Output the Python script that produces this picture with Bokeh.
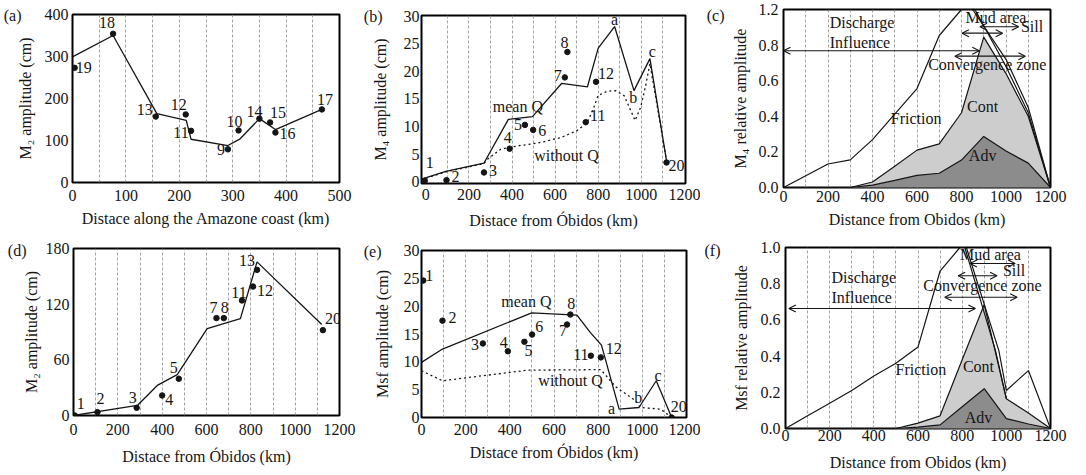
from bokeh.plotting import figure
from bokeh.layouts import column, row
from bokeh.models import (ColumnDataSource, FixedTicker, Arrow, OpenHead, Range1d,
                          LinearAxis)
from bokeh.core.properties import value
from bokeh.embed import file_html
from bokeh.resources import INLINE

FONT = "Liberation Serif"
INK = "#151515"
CONT_FILL = "#cdcdcd"
ADV_FILL = "#8c8c8c"

# ---------------- data ----------------
# (a) M2 amplitude along the Amazon coast
a_stations = ["19", "18", "13", "12", "11", "9", "10", "14", "15", "16", "17"]
a_obs_km = [4, 76, 156, 212, 222, 291, 311, 350, 370, 380, 467]
a_obs_cm = [273, 354, 157, 162, 123, 79, 124, 152, 143, 119, 174]
a_model_km = [0, 76, 158, 213, 222, 291, 314, 350, 380, 467]
a_model_cm = [299, 350, 164, 148, 103, 88, 104, 152, 126, 174]

# (b) M4 amplitude from Obidos
b_stations = ["1", "2", "3", "4", "5", "6", "7", "8", "11", "12", "20"]
b_obs_km = [-5, 96, 270, 389, 460, 498, 645, 657, 742, 790, 1117]
b_obs_cm = [0.2, 0.3, 1.7, 6.0, 10.3, 9.4, 18.9, 23.5, 10.8, 18.1, 3.5]
b_meanq_km = [-20, 93, 270, 383, 495, 630, 750, 800, 876, 966, 1040, 1117]
b_meanq_cm = [0.5, 1.9, 3.4, 11.3, 11.8, 17.8, 17.2, 24.2, 28.1, 16.5, 22.3, 3.8]
b_noq_km = [-20, 93, 270, 286, 348, 425, 518, 626, 703, 750, 780, 799, 842, 881,
            920, 951, 971, 997, 1020, 1040, 1117]
b_noq_cm = [0.4, 1.8, 3.3, 4.1, 5.9, 6.5, 7.0, 8.0, 9.3, 10.8, 13.5, 15.6, 16.4, 16.5,
            15.6, 12.9, 11.1, 13.5, 17.4, 21.4, 3.8]

# (c) M4 relative amplitude (stacked contributions)
c_km = [0, 100, 200, 300, 400, 500, 600, 700, 800, 900, 1000, 1100, 1200]
c_cont_top = [0, 0, 0, 0, 0.031, 0.12, 0.21, 0.245, 0.42, 0.845, 0.64, 0.40, 0]
c_adv_top = [0, 0, 0, 0, 0.013, 0.04, 0.068, 0.08, 0.154, 0.287, 0.205, 0.137, 0]
c_friction_km = [0, 200, 300, 400, 600, 700, 800, 850, 1000, 1100, 1200]
c_friction_top = [0, 0.132, 0.155, 0.269, 0.556, 0.854, 1.0, 1.0, 0.72, 0.45, 0]
c_second_km = [860, 1000, 1100, 1200]
c_second_val = [1.0, 0.68, 0.42, 0]
c_ytick_labels = ["0.0", "0.2", "0.4", "0.6", "0.8", "1.2"]

# (d) M2 amplitude from Obidos
d_stations = ["1", "2", "3", "4", "5", "7", "8", "11", "12", "13", "20"]
d_obs_km = [6, 108, 285, 400, 475, 645, 678, 760, 810, 828, 1125]
d_obs_cm = [0, 3.6, 8.3, 21.6, 39.6, 105, 105, 124, 139, 157, 92]
d_model_km = [0, 288, 378, 468, 603, 753, 828, 1120]
d_model_cm = [0, 10.8, 32.4, 44, 93.6, 104.4, 165.6, 98]

# (e) Msf amplitude from Obidos
e_stations = ["1", "2", "3", "4", "5", "6", "7", "8", "11", "12", "20"]
e_obs_km = [8, 95, 278, 391, 466, 501, 659, 674, 767, 812, 1133]
e_obs_cm = [24.6, 17.4, 13.3, 11.9, 13.6, 14.9, 16.7, 18.5, 11.1, 10.8, 0]
e_meanq_km = [0, 95, 499, 704, 764, 815, 895, 985, 1063, 1133]
e_meanq_cm = [9.9, 12.3, 18.8, 18.4, 15.3, 13.0, 1.5, 1.8, 6.6, 0]
e_noq_km = [0, 95, 480, 812, 880, 970, 990, 1083, 1133]
e_noq_cm = [8.4, 6.6, 8.5, 8.6, 5.5, 3.0, 1.8, 1.5, 0]

# (f) Msf relative amplitude (stacked contributions)
f_km = [0, 100, 200, 300, 400, 500, 600, 700, 800, 900, 1000, 1100, 1200]
f_cont_top = [0, 0, 0, 0, 0, 0, 0.03, 0.07, 0.38, 0.685, 0.165, 0.085, 0]
f_adv_top = [0, 0, 0, 0, 0, 0, 0.008, 0.02, 0.12, 0.22, 0.055, 0.025, 0]
f_friction_km = [0, 100, 200, 300, 400, 500, 600, 700, 790, 819, 966, 1000, 1100, 1200]
f_friction_top = [0, 0.07, 0.14, 0.21, 0.29, 0.36, 0.45, 0.87, 1.0, 1.0, 0.43, 0.21, 0.32, 0]
f_second_km = [812, 951, 1000]
f_second_val = [1.0, 0.43, 0.165]

# zone annotations (text, x, y) and double arrows (x0, x1, y)
c_zone_text = ["Discharge", "Influence", "Mud area", "Sill", "Convergence zone",
               "Friction", "Cont", "Adv"]
c_zone_x = [208, 208, 955, 1117, 916, 596, 895, 895]
c_zone_y = [0.927, 0.812, 0.954, 0.903, 0.689, 0.388, 0.457, 0.177]
c_arrow_x0 = [0, 802, 883, 770]
c_arrow_x1 = [880, 985, 1057, 1087]
c_arrow_y = [0.768, 0.867, 0.903, 0.738]

f_zone_text = ["Discharge", "Influence", "Mud area", "Sill", "Convergence zone",
               "Friction", "Cont", "Adv"]
f_zone_x = [208, 208, 928, 1035, 892, 613, 874, 874]
f_zone_y = [0.834, 0.724, 0.963, 0.871, 0.792, 0.328, 0.343, 0.061]
f_arrow_x0 = [15, 835, 782, 721]
f_arrow_x1 = [860, 1040, 958, 1049]
f_arrow_y = [0.663, 0.912, 0.844, 0.725]

b_curve_text = ["mean Q", "without Q", "a", "b", "c"]
b_curve_x = [427, 653, 876, 963, 1051]
b_curve_y = [13.7, 4.7, 29.3, 15.3, 23.5]
e_curve_text = ["mean Q", "without Q", "a", "b", "c"]
e_curve_x = [475, 675, 861, 981, 1071]
e_curve_y = [20.8, 6.7, 1.7, 3.6, 7.5]

panel_tags = ["(a)", "(b)", "(c)", "(d)", "(e)", "(f)"]

# ---------------- layout (pixel offsets of station labels) ----------------
a_lab_dx = [9, -6, -11, -7, -10, -7, -4, -5, 8, 12, 3]
a_lab_dy = [0, -11, -7, -10, 2, 0, -9, -7, -10, 1, -10]
b_lab_dx = [5, 9, 9, -2, -7, 9, -7, -3, 12, 10, 10]
b_lab_dy = [-18, -4, -2, -11, 0, 1, -2, -9, -7, -8, 3]
d_lab_dx = [6, 3, -4, 7, -5, -3, 1, -3, 12, -10, 10]
d_lab_dy = [-12, -14, -10, 4, -11, -11, -11, -8, 4, -9, -12]
e_lab_dx = [6, 10, -8, -4, 4, 7, -4, 1, -10, 13, 7]
e_lab_dy = [-5, -3, 1, -9, 9, -8, 6, -11, -1, -9, -11]


def style_axis(ax):
    ax.axis_line_color = None
    ax.major_tick_line_color = None
    ax.minor_tick_line_color = None
    ax.major_tick_out = 0
    ax.major_tick_in = 0
    ax.minor_tick_out = 0
    ax.minor_tick_in = 0
    ax.major_label_text_font = FONT
    ax.major_label_text_font_size = "16px"
    ax.major_label_text_color = INK
    ax.axis_label_text_font = FONT
    ax.axis_label_text_font_size = "16px"
    ax.axis_label_text_font_style = "normal"
    ax.axis_label_text_color = INK


def make_panel(w, h, left, right, top, bottom, xr, yr, xticks, yticks, grid_ticks,
               xlabel, ylabel, xstand, xlstand, ystand, ylstand, tag, tag_y, tag_stand,
               ylabels=None):
    p = figure(width=w, height=h, x_range=Range1d(*xr), y_range=Range1d(*yr),
               output_backend="svg", toolbar_location=None,
               min_border_left=left, min_border_right=right,
               min_border_top=top, min_border_bottom=bottom)
    try:
        p.frame_align = False
    except Exception:
        pass
    p.background_fill_color = "white"
    p.border_fill_color = "white"
    p.outline_line_color = "black"
    p.outline_line_width = 2
    p.xaxis.ticker = FixedTicker(ticks=xticks)
    p.yaxis.ticker = FixedTicker(ticks=yticks)
    p.xaxis.major_label_overrides = {t: str(t) for t in xticks}
    if ylabels is not None:
        p.yaxis.major_label_overrides = {t: s for t, s in zip(yticks, ylabels)}
    else:
        p.yaxis.major_label_overrides = {t: str(t) for t in yticks}
    style_axis(p.xaxis[0])
    style_axis(p.yaxis[0])
    p.xaxis.axis_label = xlabel
    p.yaxis.axis_label = ylabel
    p.xaxis.major_label_standoff = xstand
    p.xaxis.axis_label_standoff = xlstand
    p.yaxis.major_label_standoff = ystand
    p.yaxis.axis_label_standoff = ylstand
    # panel letter, drawn as the single label of an outer, otherwise bare axis
    tag_axis = LinearAxis(ticker=FixedTicker(ticks=[tag_y]),
                          major_label_overrides={tag_y: tag})
    style_axis(tag_axis)
    tag_axis.major_label_standoff = tag_stand
    p.add_layout(tag_axis, "left")
    p.xgrid.ticker = FixedTicker(ticks=grid_ticks)
    p.xgrid.grid_line_color = "#8a8a8a"
    p.xgrid.grid_line_dash = "3 2"
    p.xgrid.grid_line_width = 0.8
    p.ygrid.visible = False
    return p


def station_points(p, xs, ys, names, dx, dy):
    src = ColumnDataSource(dict(x=xs, y=ys, t=names, dx=dx, dy=dy))
    p.scatter("x", "y", source=src, size=5.5, color=INK)
    p.text("x", "y", text="t", x_offset="dx", y_offset="dy", source=src,
           text_font=value(FONT), text_font_size="16px", text_color=INK,
           text_align="center", text_baseline="middle")


def free_text(p, xs, ys, texts, align="center"):
    src = ColumnDataSource(dict(x=xs, y=ys, t=texts))
    p.text("x", "y", text="t", source=src, text_font=value(FONT),
           text_font_size="16px", text_color=INK, text_align=align,
           text_baseline="middle")


def double_arrows(p, x0s, x1s, ys):
    for x0, x1, y in zip(x0s, x1s, ys):
        p.add_layout(Arrow(start=OpenHead(size=7, line_width=1.1, line_color=INK),
                           end=OpenHead(size=7, line_width=1.1, line_color=INK),
                           x_start=x0, y_start=y, x_end=x1, y_end=y,
                           line_color=INK, line_width=1.1))


km_ticks = [0, 200, 400, 600, 800, 1000, 1200]
grid100 = [100, 200, 300, 400, 500, 600, 700, 800, 900, 1000, 1100]

# (a)
pa = make_panel(360, 235, 72, 21, 14, 53, (0, 500), (0, 400), [0, 100, 200, 300, 400, 500],
                [0, 100, 200, 300, 400], [50, 100, 150, 200, 250, 300, 350, 400, 450],
                "Distace along the Amazone coast (km)", "M\u2082 amplitude (cm)", 7, 6, 4, 8,
                panel_tags[0], 397.6, -8)
pa.line(a_model_km, a_model_cm, line_color=INK, line_width=1.3)
station_points(pa, a_obs_km, a_obs_cm, a_stations, a_lab_dx, a_lab_dy)

# (b)
pb = make_panel(340, 235, 61, 15, 15, 52, (-20, 1205), (-0.3, 30.1), km_ticks,
                [0, 5, 10, 15, 20, 25, 30], grid100,
                "Distace from \u00d3bidos (km)", "M\u2084 amplitude (cm)", 5, 9, 2, 12,
                panel_tags[1], 30.0, -14)
pb.line(b_noq_km, b_noq_cm, line_color=INK, line_width=1.3, line_dash="2 3")
pb.line(b_meanq_km, b_meanq_cm, line_color=INK, line_width=1.3)
station_points(pb, b_obs_km, b_obs_cm, b_stations, b_lab_dx, b_lab_dy)
free_text(pb, b_curve_x, b_curve_y, b_curve_text)

# (c)
pc = make_panel(386, 235, 83, 36, 9, 48, (0, 1200), (0, 1.0), km_ticks,
                [0, 0.2, 0.4, 0.6, 0.8, 1.0], grid100,
                "Distance from Obidos (km)", "M\u2084 relative amplitude", 3, 6, 5, 7,
                panel_tags[2], 0.966, 4, ylabels=c_ytick_labels)
pc.varea(x=c_km, y1=0, y2=c_cont_top, fill_color=CONT_FILL)
pc.varea(x=c_km, y1=0, y2=c_adv_top, fill_color=ADV_FILL)
pc.line(c_km, c_cont_top, line_color=INK, line_width=1.2)
pc.line(c_km, c_adv_top, line_color=INK, line_width=1.2)
pc.line(c_friction_km, c_friction_top, line_color=INK, line_width=1.2)
pc.line(c_second_km, c_second_val, line_color=INK, line_width=1.2)
double_arrows(pc, c_arrow_x0, c_arrow_x1, c_arrow_y)
free_text(pc, c_zone_x[:2], c_zone_y[:2], c_zone_text[:2], align="left")
free_text(pc, c_zone_x[2:], c_zone_y[2:], c_zone_text[2:])

# (d)
pd_ = make_panel(360, 240, 73, 21, 13, 60, (0, 1200), (0, 180), km_ticks,
                 [0, 60, 120, 180], grid100,
                 "Distace from \u00d3bidos (km)", "M\u2082 amplitude (cm)", 8, 10, 4, 3,
                 panel_tags[3], 177.8, -7)
pd_.line(d_model_km, d_model_cm, line_color=INK, line_width=1.3)
station_points(pd_, d_obs_km, d_obs_cm, d_stations, d_lab_dx, d_lab_dy)

# (e)
pe = make_panel(340, 240, 60, 14, 15, 58, (0, 1200), (0, 30), km_ticks,
                [0, 5, 10, 15, 20, 25, 30], grid100,
                "Distace from \u00d3bidos (km)", "Msf amplitude (cm)", 6, 6, 2, 10,
                panel_tags[4], 29.9, -11)
pe.line(e_noq_km, e_noq_cm, line_color=INK, line_width=1.3, line_dash="2 3")
pe.line(e_meanq_km, e_meanq_cm, line_color=INK, line_width=1.3)
station_points(pe, e_obs_km, e_obs_cm, e_stations, e_lab_dx, e_lab_dy)
free_text(pe, e_curve_x, e_curve_y, e_curve_text)

# (f)
pf = make_panel(386, 240, 85, 36, 12, 47, (0, 1200), (0, 1.0), km_ticks,
                [0, 0.2, 0.4, 0.6, 0.8, 1.0], grid100,
                "Distance from Obidos (km)", "Msf relative amplitude", 1, 10, 5, 8,
                panel_tags[5], 0.983, 9,
                ylabels=["0.0", "0.2", "0.4", "0.6", "0.8", "1.0"])
pf.varea(x=f_km, y1=0, y2=f_cont_top, fill_color=CONT_FILL)
pf.varea(x=f_km, y1=0, y2=f_adv_top, fill_color=ADV_FILL)
pf.line(f_km, f_cont_top, line_color=INK, line_width=1.2)
pf.line(f_km, f_adv_top, line_color=INK, line_width=1.2)
pf.line(f_friction_km, f_friction_top, line_color=INK, line_width=1.2)
pf.line(f_second_km, f_second_val, line_color=INK, line_width=1.2)
double_arrows(pf, f_arrow_x0, f_arrow_x1, f_arrow_y)
free_text(pf, f_zone_x[:2], f_zone_y[:2], f_zone_text[:2], align="left")
free_text(pf, f_zone_x[2:], f_zone_y[2:], f_zone_text[2:])

layout = column(row(pa, pb, pc, spacing=0), row(pd_, pe, pf, spacing=0), spacing=0)
open("out.html", "w").write(file_html(layout, INLINE))
